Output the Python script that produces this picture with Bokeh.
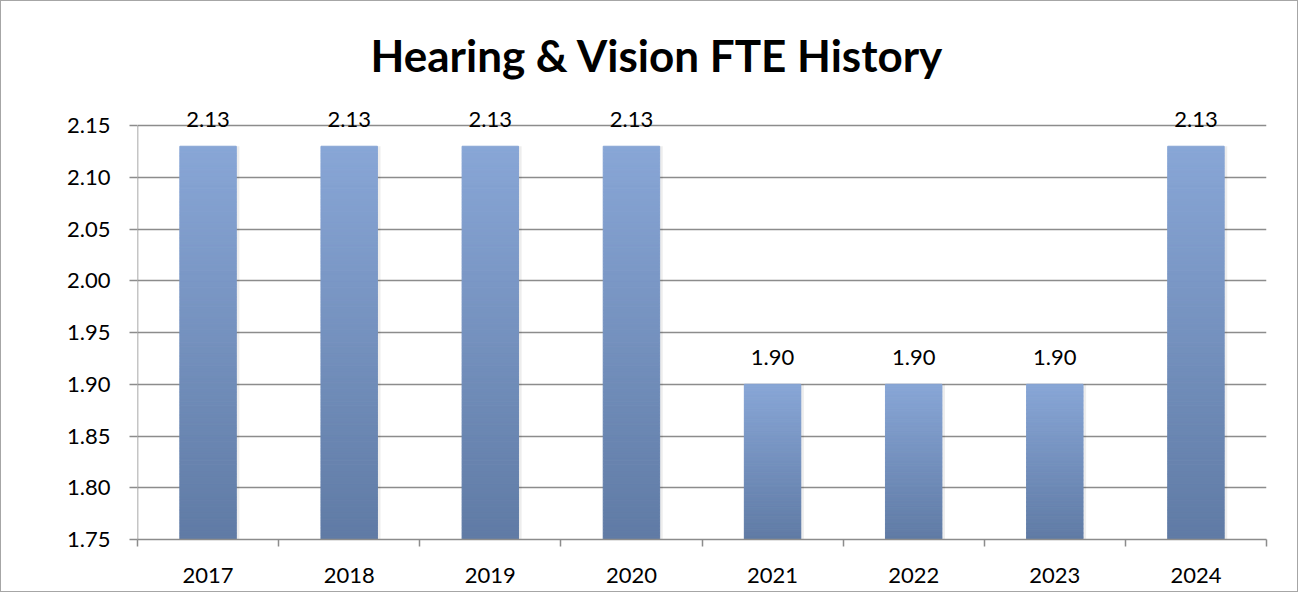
from bokeh.plotting import figure
from bokeh.models import ColumnDataSource, LabelSet, FixedTicker, Range1d
from bokeh.core.properties import value
from bokeh.embed import file_html
from bokeh.resources import INLINE

title_text = "Hearing & Vision FTE History"
years = ["2017", "2018", "2019", "2020", "2021", "2022", "2023", "2024"]
fte = [2.13, 2.13, 2.13, 2.13, 1.90, 1.90, 1.90, 2.13]
y_ticks = [1.75, 1.80, 1.85, 1.90, 1.95, 2.00, 2.05, 2.10, 2.15]
y_min, y_max = 1.75, 2.15
y_view_top = 2.18  # headroom so the value labels are not clipped

FONT = "Lato"
GRID = "#8c8c8c"
BAR_W = 0.40
top_rgb = (0x88, 0xA6, 0xD6)
bot_rgb = (0x60, 0x7B, 0xA5)
N = 120

p = figure(width=1298, height=592, output_backend="svg", toolbar_location=None,
           x_range=Range1d(0, len(years)), y_range=Range1d(y_min, y_view_top),
           min_border_left=136, min_border_right=33, min_border_bottom=54, min_border_top=93,
           styles={"border": "1px solid #a6a6a6"})

p.title.text = title_text
p.title.text_font = FONT
p.title.text_font_size = "44px"
p.title.text_font_style = "bold"
p.title.align = "left"
p.title.offset = 233
p.title.text_color = "#000000"
p.title.standoff = 27

p.outline_line_color = None
p.background_fill_color = "white"
p.border_fill_color = "white"

# bar centres from category index
xc = [i + 0.5 for i in range(len(years))]

# soft shadow
shadow = ColumnDataSource(dict(x=[x + 0.012 for x in xc], top=fte))
p.vbar(x="x", top="top", bottom=y_min, width=BAR_W + 0.02, source=shadow,
       fill_color="black", fill_alpha=0.07, line_color=None)

# gradient bars built from slices
xs, bots, tops, cols = [], [], [], []
for x, v in zip(xc, fte):
    for k in range(N):
        t = k / (N - 1)
        r = int(round(bot_rgb[0] + (top_rgb[0] - bot_rgb[0]) * t))
        g = int(round(bot_rgb[1] + (top_rgb[1] - bot_rgb[1]) * t))
        b = int(round(bot_rgb[2] + (top_rgb[2] - bot_rgb[2]) * t))
        xs.append(x)
        bots.append(y_min + (v - y_min) * k / N)
        tops.append(y_min + (v - y_min) * (k + 1) / N)
        cols.append("#%02x%02x%02x" % (r, g, b))
bars = ColumnDataSource(dict(x=xs, bottom=bots, top=tops, color=cols))
p.vbar(x="x", bottom="bottom", top="top", width=BAR_W, source=bars,
       fill_color="color", line_color="color", line_width=1)

# y axis line drawn only over the value span
p.segment(x0=[0], y0=[y_min], x1=[0], y1=[y_max], line_color=GRID, line_width=1.5)

# data labels
lab = ColumnDataSource(dict(x=xc, y=fte, t=["%.2f" % v for v in fte]))
p.add_layout(LabelSet(x="x", y="y", text="t", source=lab, text_align="center",
                      text_baseline="alphabetic", y_offset=19,
                      text_font=value(FONT), text_font_size="22px", text_color="black"))

# y axis
p.yaxis.ticker = FixedTicker(ticks=y_ticks)
p.yaxis.major_label_overrides = {t: "%.2f" % t for t in y_ticks}
p.yaxis.major_label_text_font = FONT
p.yaxis.major_label_text_font_size = "22px"
p.yaxis.major_label_text_color = "black"
p.yaxis.major_tick_out = 8
p.yaxis.major_tick_in = 0
p.yaxis.minor_tick_out = 0
p.yaxis.minor_tick_in = 0
p.yaxis.major_tick_line_color = GRID
p.yaxis.major_tick_line_width = 1.5
p.yaxis.axis_line_color = None
p.yaxis.major_label_standoff = 19

# x axis: labels at centres, ticks at category boundaries
p.xaxis.ticker = FixedTicker(ticks=xc, minor_ticks=list(range(len(years) + 1)))
p.xaxis.major_label_overrides = {x: y for x, y in zip(xc, years)}
p.xaxis.major_label_text_font = FONT
p.xaxis.major_label_text_font_size = "22px"
p.xaxis.major_label_text_color = "black"
p.xaxis.major_tick_out = 0
p.xaxis.major_tick_in = 0
p.xaxis.minor_tick_out = 7
p.xaxis.minor_tick_in = 0
p.xaxis.minor_tick_line_color = GRID
p.xaxis.minor_tick_line_width = 1.5
p.xaxis.axis_line_color = GRID
p.xaxis.axis_line_width = 1.5
p.xaxis.major_label_standoff = 21

p.xgrid.grid_line_color = None
p.ygrid.grid_line_color = GRID
p.ygrid.grid_line_width = 1.5

open("out.html", "w").write(file_html(p, INLINE))
